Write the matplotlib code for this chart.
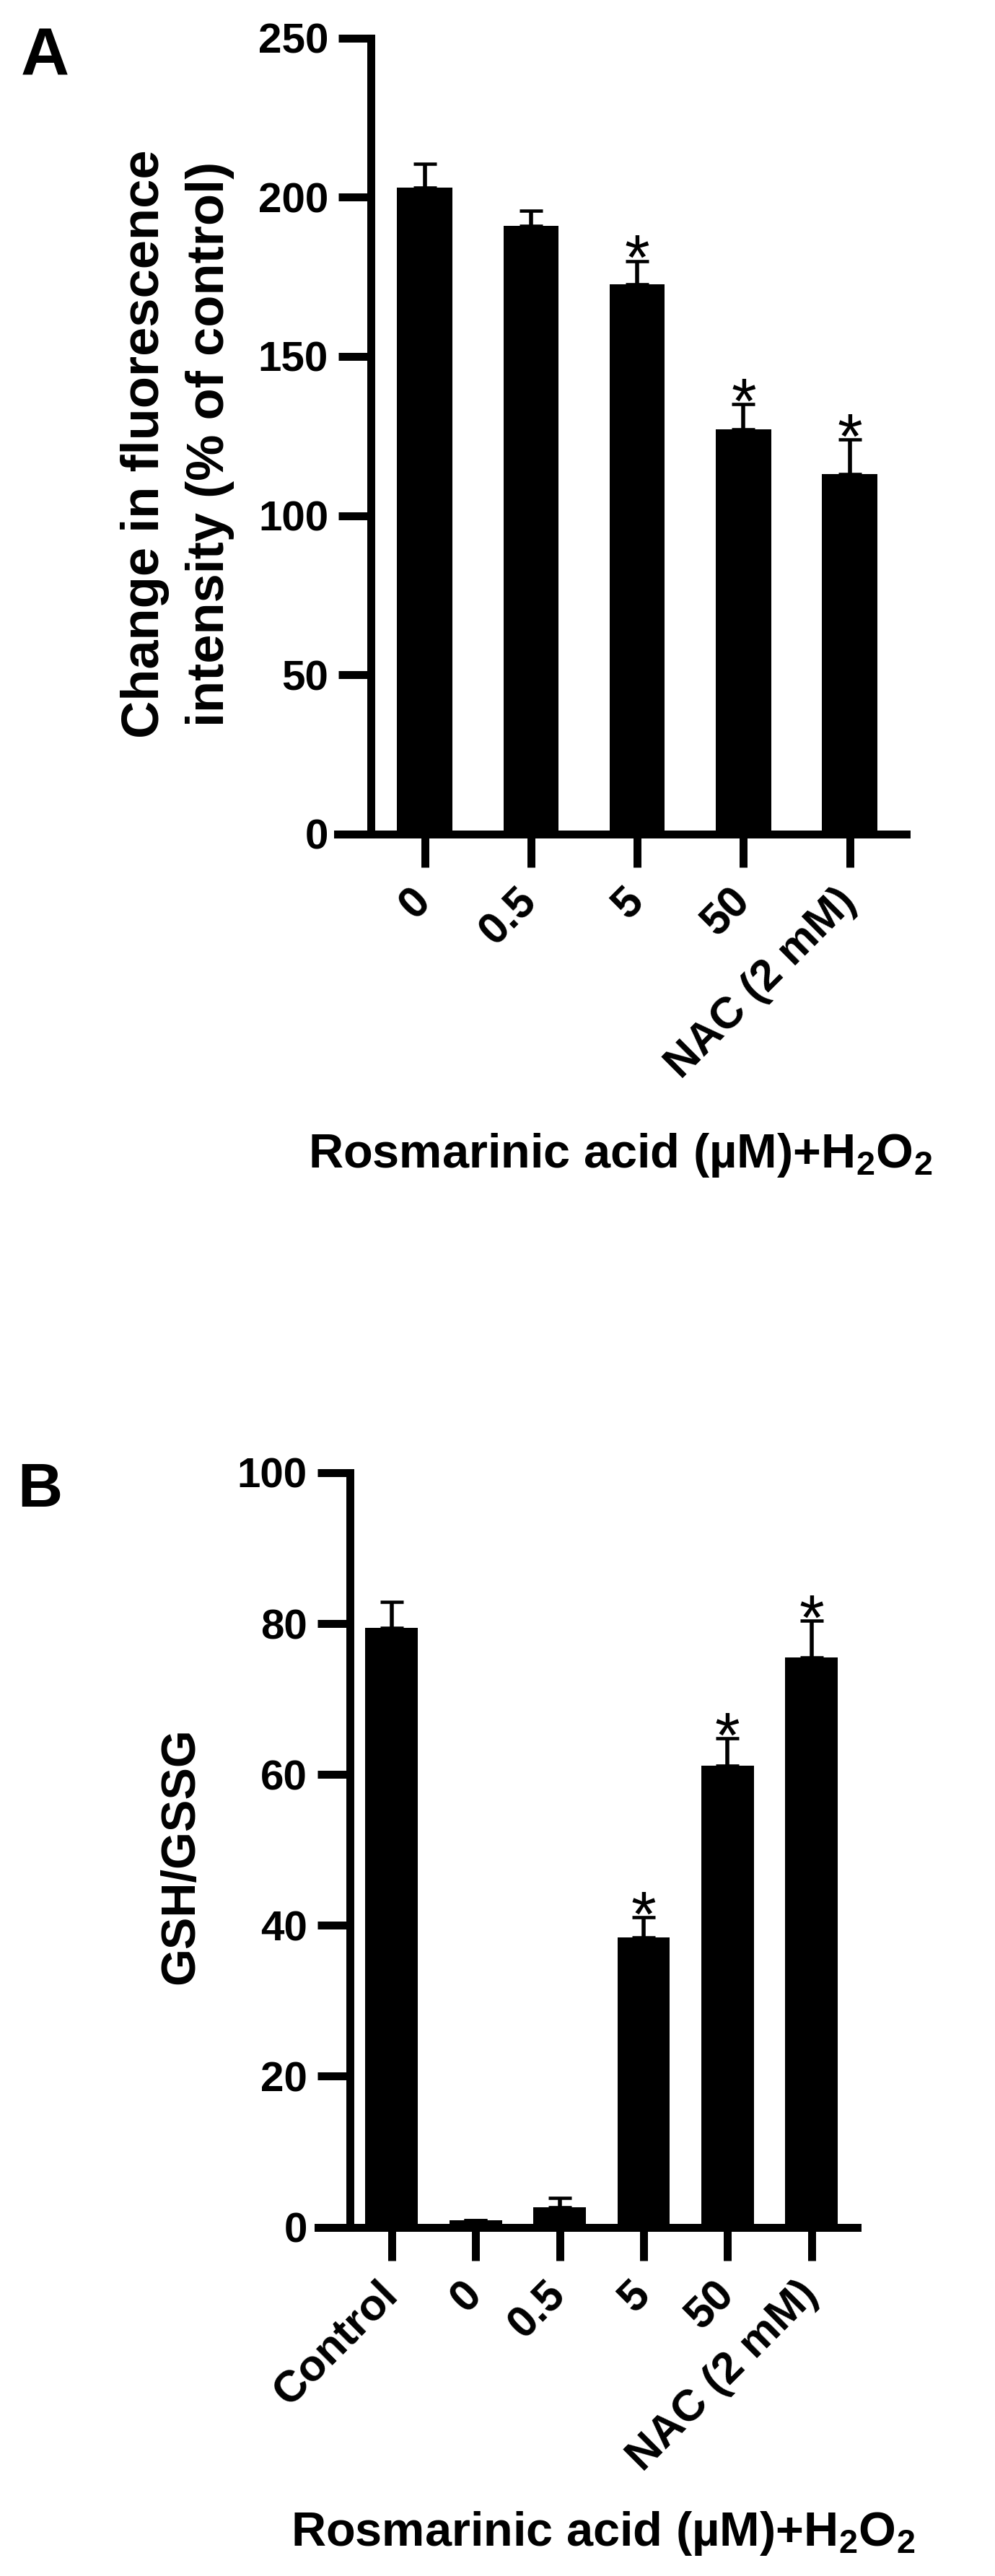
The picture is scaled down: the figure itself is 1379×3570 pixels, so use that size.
import matplotlib.pyplot as plt
import numpy as np

plt.rcParams['font.family'] = ['Liberation Sans', 'DejaVu Sans']
plt.rcParams['font.weight'] = 'bold'
plt.rcParams['mathtext.fontset'] = 'custom'
plt.rcParams['mathtext.rm'] = 'Liberation Sans:bold'
plt.rcParams['mathtext.bf'] = 'Liberation Sans:bold'
plt.rcParams['mathtext.it'] = 'Liberation Sans:bold'

# ==========================
# DATA
# ==========================

a_labels = ['0', '0.5', '5', '50', 'NAC (2 mM)']
a_means = [203, 191, 172.7, 127, 113]
a_sem = [7.4, 4.7, 7.3, 8, 11]
a_sig = [False, False, True, True, True]

b_labels = ['Control', '0', '0.5', '5', '50', 'NAC (2 mM)']
b_means = [79.4, 0.9, 2.6, 38.4, 61.2, 75.5]
b_sem = [3.5, 0, 1.3, 2.7, 3.6, 4.9]
b_sig = [False, False, False, True, True, True]

xlabel = 'Rosmarinic acid (µM)+H$_2$O$_2$'

# ==========================
# FIGURE (pixel layout helpers)
# ==========================

W, H = 1379, 3570
fig = plt.figure(figsize=(W / 100, H / 100), dpi=100)


def box(x0, x1, ytop, ybot):
    return [x0 / W, 1 - ybot / H, (x1 - x0) / W, (ybot - ytop) / H]


def draw(ax, labels, means, sem, sig, ymax, step, xlim, spine_x, width):
    x = np.arange(len(labels))
    ax.bar(x, means, width=width, color='black', zorder=2)
    ax.errorbar(x, means, yerr=[np.zeros(len(x)), sem], fmt='none',
                ecolor='black', elinewidth=4, capsize=11.7, capthick=3.3,
                zorder=1)
    for xi, m, s, star in zip(x, means, sem, sig):
        if star:
            ax.annotate('*', (xi, m + s), xytext=(0, -18.4),
                        textcoords='offset points', ha='center',
                        va='baseline', fontsize=64, fontweight='normal')

    ax.set_xlim(*xlim)
    ax.set_ylim(0, ymax)
    ax.spines['top'].set_visible(False)
    ax.spines['right'].set_visible(False)
    ax.spines['left'].set_position(('data', spine_x))
    ax.spines['left'].set_bounds(0, ymax)
    ax.spines['left'].set_linewidth(7.9)
    ax.spines['bottom'].set_linewidth(7.9)

    ax.set_yticks(np.arange(0, ymax + 1, step))
    ax.tick_params(axis='y', length=32.5, width=7.9, labelsize=42, pad=10)
    ax.tick_params(axis='x', length=33, width=7.9, labelsize=44, pad=28)
    ax.set_xticks(x)
    ax.set_xticklabels(labels, rotation=45, ha='right', va='center',
                       rotation_mode='anchor')


# ==========================
# PANEL A
# ==========================

axA = fig.add_axes(box(468, 1256, 52.7, 1155.8))
draw(axA, a_labels, a_means, a_sem, a_sig, 250, 50,
     (-0.819, 4.532), -0.506, 0.52)

fig.text(29 / W, 1 - 103 / H, 'A', fontsize=67, ha='left', va='baseline')
fig.text(246 / W, 1 - 615 / H,
         'Change in fluorescence\nintensity (% of control)',
         rotation=90, ha='center', va='center', fontsize=52,
         linespacing=1.4, multialignment='center')
fig.text(860 / W, 1 - 1618 / H, xlabel, ha='center', va='baseline',
         fontsize=48)

# ==========================
# PANEL B
# ==========================

axB = fig.add_axes(box(441, 1187.6, 2041, 3086.6))
draw(axB, b_labels, b_means, b_sem, b_sig, 100, 20,
     (-0.874, 5.54), -0.496, 0.625)

fig.text(24 / W, 1 - 2088 / H, 'B', fontsize=62, ha='left', va='baseline')
fig.text(251 / W, 1 - 2572 / H, 'GSH/GSSG', rotation=90, ha='center',
         va='center', fontsize=48)
fig.text(836 / W, 1 - 3528 / H, xlabel, ha='center', va='baseline',
         fontsize=48)

fig.savefig('out.png', dpi=100)
